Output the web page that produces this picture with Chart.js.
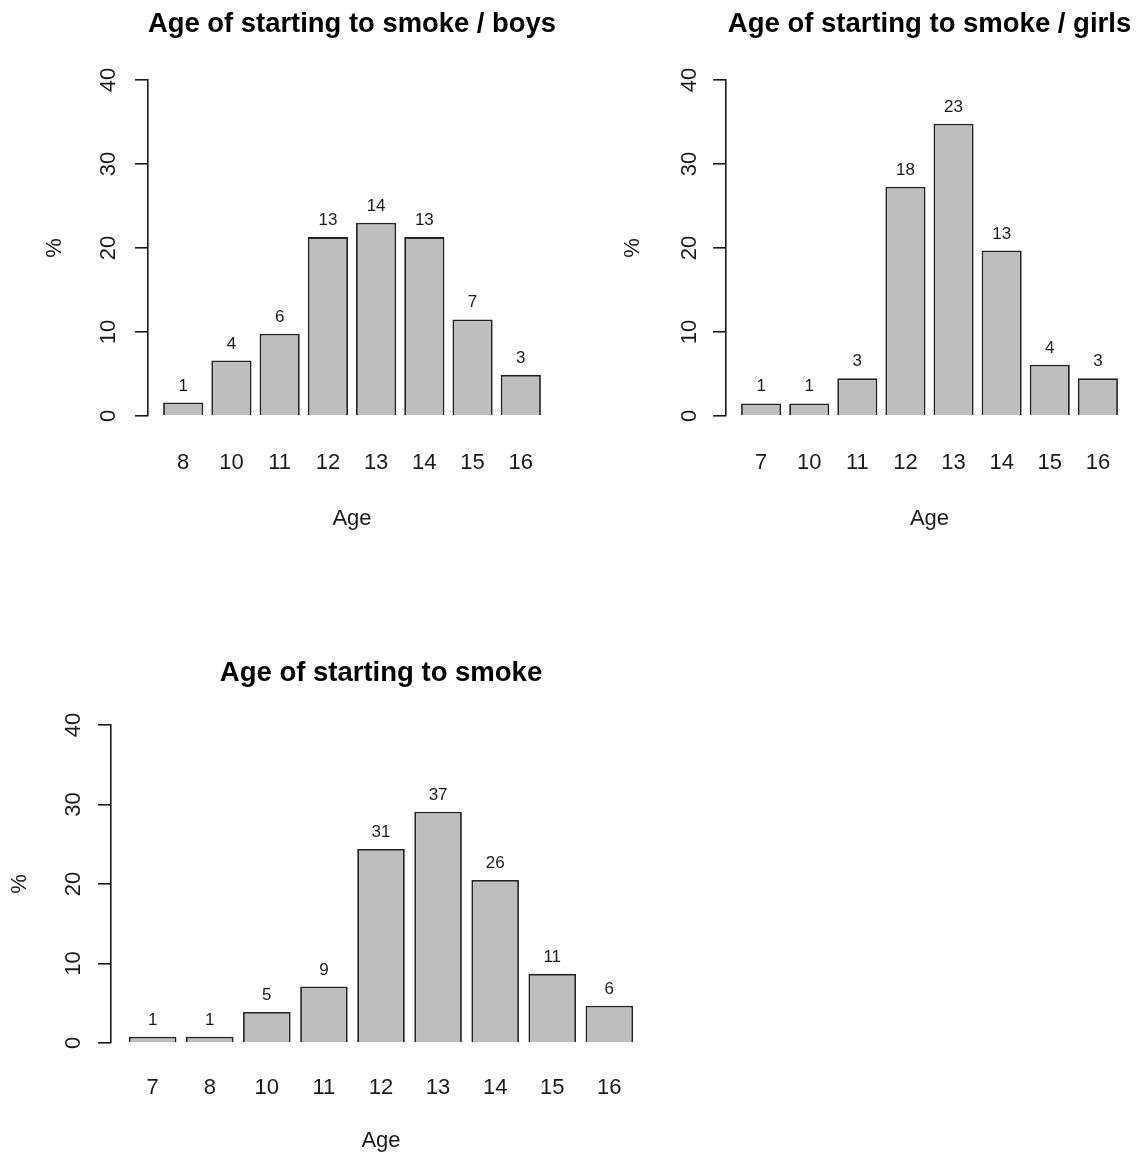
<!DOCTYPE html>
<html>
<head>
<meta charset="utf-8">
<script src="https://cdn.jsdelivr.net/npm/chart.js@4.4.0/dist/chart.umd.min.js"></script>
<style>
  body { margin: 0; background: #fff; }
  #wrap { position: relative; width: 1140px; height: 1158px; }
  canvas { position: absolute; }
</style>
</head>
<body>
<div id="wrap">
  <canvas id="boys" width="570" height="560" style="left:0;top:0"></canvas>
  <canvas id="girls" width="570" height="560" style="left:570px;top:0"></canvas>
  <canvas id="all" width="680" height="538" style="left:0;top:620px"></canvas>
</div>
<script>
// age groups, % of smokers (bar height) and counts (label above bar)
const boysAges   = ['8', '10', '11', '12', '13', '14', '15', '16'];
const boysPct    = [1.6, 6.6, 9.8, 21.3, 23.0, 21.3, 11.5, 4.9];
const boysCounts = [1, 4, 6, 13, 14, 13, 7, 3];

const girlsAges   = ['7', '10', '11', '12', '13', '14', '15', '16'];
const girlsPct    = [1.5, 1.5, 4.5, 27.3, 34.8, 19.7, 6.1, 4.5];
const girlsCounts = [1, 1, 3, 18, 23, 13, 4, 3];

const allAges   = ['7', '8', '10', '11', '12', '13', '14', '15', '16'];
const allPct    = [0.8, 0.8, 3.9, 7.1, 24.4, 29.1, 20.5, 8.7, 4.7];
const allCounts = [1, 1, 5, 9, 31, 37, 26, 11, 6];

const yTicks = [0, 10, 20, 30, 40];

const FONT = '"Liberation Sans", Arial, sans-serif';
const INK = '#1a1a1a';

// counts written above each bar
const countLabels = {
  id: 'countLabels',
  afterDatasetsDraw(chart, args, opts) {
    const { ctx } = chart;
    const meta = chart.getDatasetMeta(0);
    ctx.save();
    ctx.font = `17px ${FONT}`;
    ctx.fillStyle = INK;
    ctx.textAlign = 'center';
    ctx.textBaseline = 'alphabetic';
    meta.data.forEach((bar, i) => ctx.fillText(String(opts.counts[i]), bar.x, bar.y - 12));
    ctx.restore();
  }
};

function smokeChart(id, title, ages, pct, counts, box) {
  return new Chart(document.getElementById(id), {
    type: 'bar',
    data: {
      datasets: [{
        data: pct.map((v, i) => ({ x: i, y: v })),
        backgroundColor: '#bebebe',
        borderColor: '#222',
        borderWidth: 1.8,
        barPercentage: 1 / 1.2,
        categoryPercentage: 1
      }]
    },
    options: {
      responsive: false,
      animation: false,
      events: [],
      layout: { padding: { left: 0, right: box.right, top: 0, bottom: 0 } },
      plugins: {
        legend: { display: false },
        tooltip: { enabled: false },
        title: {
          display: true,
          text: title,
          fullSize: false,
          color: '#000',
          font: { family: FONT, size: 27.5, weight: 'bold' },
          padding: { top: box.titleTop, bottom: box.titleBottom }
        },
        countLabels: { counts }
      },
      scales: {
        x: {
          type: 'linear',
          offset: false,
          min: -0.73,
          max: ages.length - 1 + 0.73,
          grid: { display: false, drawTicks: false },
          border: { display: false },
          afterBuildTicks: s => { s.ticks = ages.map((a, i) => ({ value: i })); },
          afterFit: s => {
            s.height = box.xh;
            // labels sit well inside the plot, no edge padding needed
            s.paddingLeft = 0;
            s.paddingRight = 0;
          },
          ticks: {
            callback: v => ages[v],
            autoSkip: false,
            maxRotation: 0,
            color: INK,
            font: { family: FONT, size: 22 },
            padding: box.tickPad
          },
          title: {
            display: true,
            text: 'Age',
            color: INK,
            font: { family: FONT, size: 22 },
            padding: { top: 0, bottom: box.agePad }
          }
        },
        y: {
          min: 0,
          max: 40,
          afterBuildTicks: s => { s.ticks = yTicks.map(v => ({ value: v })); },
          afterFit: s => { s.width = box.yw; },
          ticks: {
            minRotation: 90,
            maxRotation: 90,
            crossAlign: 'center',
            padding: box.yTickPad,
            color: INK,
            font: { family: FONT, size: 22 }
          },
          grid: { drawOnChartArea: false, tickLength: 13, color: INK, lineWidth: 1.6 },
          border: { display: true, color: INK, width: 1.6 },
          title: {
            display: true,
            text: '%',
            color: INK,
            font: { family: FONT, size: 22 },
            padding: { top: box.pctPad, bottom: 0 }
          }
        }
      }
    },
    plugins: [countLabels]
  });
}

smokeChart('boys', 'Age of starting to smoke / boys', boysAges, boysPct, boysCounts,
  { yw: 148, right: 14, titleTop: 8, titleBottom: 39, xh: 144, tickPad: 34, agePad: 28, yTickPad: 14, pctPad: 42 });

smokeChart('girls', 'Age of starting to smoke / girls', girlsAges, girlsPct, girlsCounts,
  { yw: 156, right: 7, titleTop: 8, titleBottom: 39, xh: 144, tickPad: 34, agePad: 28, yTickPad: 11, pctPad: 50 });

smokeChart('all', 'Age of starting to smoke', allAges, allPct, allCounts,
  { yw: 111, right: 29, titleTop: 37, titleBottom: 35, xh: 115, tickPad: 32, agePad: 4, yTickPad: 12, pctPad: 7 });
</script>
</body>
</html>
